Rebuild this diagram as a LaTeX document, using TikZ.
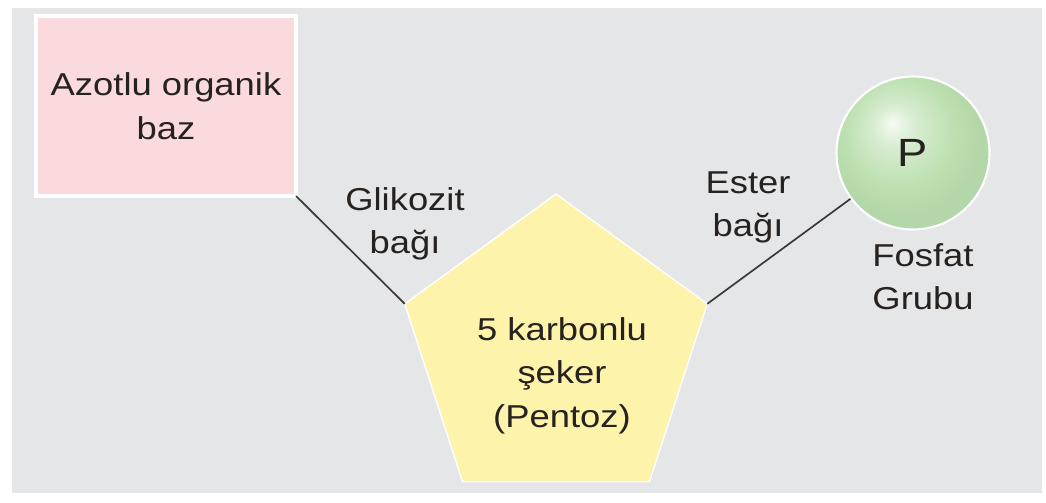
\documentclass[tikz,border=0pt]{standalone}
\usepackage{fontspec}
\setmainfont[FakeStretch=1.15]{Liberation Sans}
\usetikzlibrary{shapes.geometric, positioning}
\definecolor{bggray}{RGB}{229, 230, 232}
\definecolor{bazpink}{RGB}{250, 218, 220}
\definecolor{sekeryellow}{RGB}{253, 243, 170}
\definecolor{phosgreen}{RGB}{188, 224, 176}
\definecolor{inkdark}{RGB}{38, 34, 32}
\pgfdeclareradialshading{phosball}{\pgfpoint{-7bp}{10bp}}{%
  color(0bp)=(white!85!phosgreen); color(7bp)=(phosgreen!60!white);
  color(18bp)=(phosgreen); color(25bp)=(phosgreen!96!black); color(50bp)=(phosgreen!96!black)}

\begin{document}
\begin{tikzpicture}[x=0.025cm, y=-0.025cm,
    every node/.style={font=\fontsize{22.5}{31}\selectfont, text=inkdark},
    lbl/.style={align=center, inner sep=0pt, anchor=north},
    bond/.style={line width=1.2pt, draw=inkdark!90}]
  \useasboundingbox (0, 0) rectangle (1046, 503);
  \fill[white] (0, 0) rectangle (1046, 503);
  \fill[bggray] (12, 8) rectangle (1042, 493);

  % Azotlu organik baz
  \node[draw=white, line width=2.5pt, fill=bazpink, minimum width=6.5cm, minimum height=4.5cm, align=center, inner sep=0pt, outer sep=0pt] (baz) at (166, 106) {Azotlu organik\\baz};

  % Pentoz
  \node[regular polygon, regular polygon sides=5, minimum size=7.95cm, draw=white, line width=1pt, fill=sekeryellow, inner sep=0pt, outer sep=0pt] (seker) at (556, 353) {};
  \node[lbl] (sekertxt) at (562, 317) {5 karbonlu\\şeker\\(Pentoz)};

  % Fosfat
  \node[circle, minimum size=3.825cm, draw=white, line width=1.5pt, shading=phosball, inner sep=0pt, font=\fontsize{28}{32}\selectfont] (phos) at (913, 153) {P};
  \node[lbl] (phostxt) at (923, 243) {Fosfat\\Grubu};

  % Bonds
  \draw[bond] (baz.south east) -- (seker.corner 2);
  \draw[bond] (seker.corner 5) -- (phos);

  % Labels
  \node[lbl] (glikozit) at (405, 187) {Glikozit\\bağı};
  \node[lbl] (ester) at (748, 171) {Ester\\bağı};
\end{tikzpicture}
\end{document}
